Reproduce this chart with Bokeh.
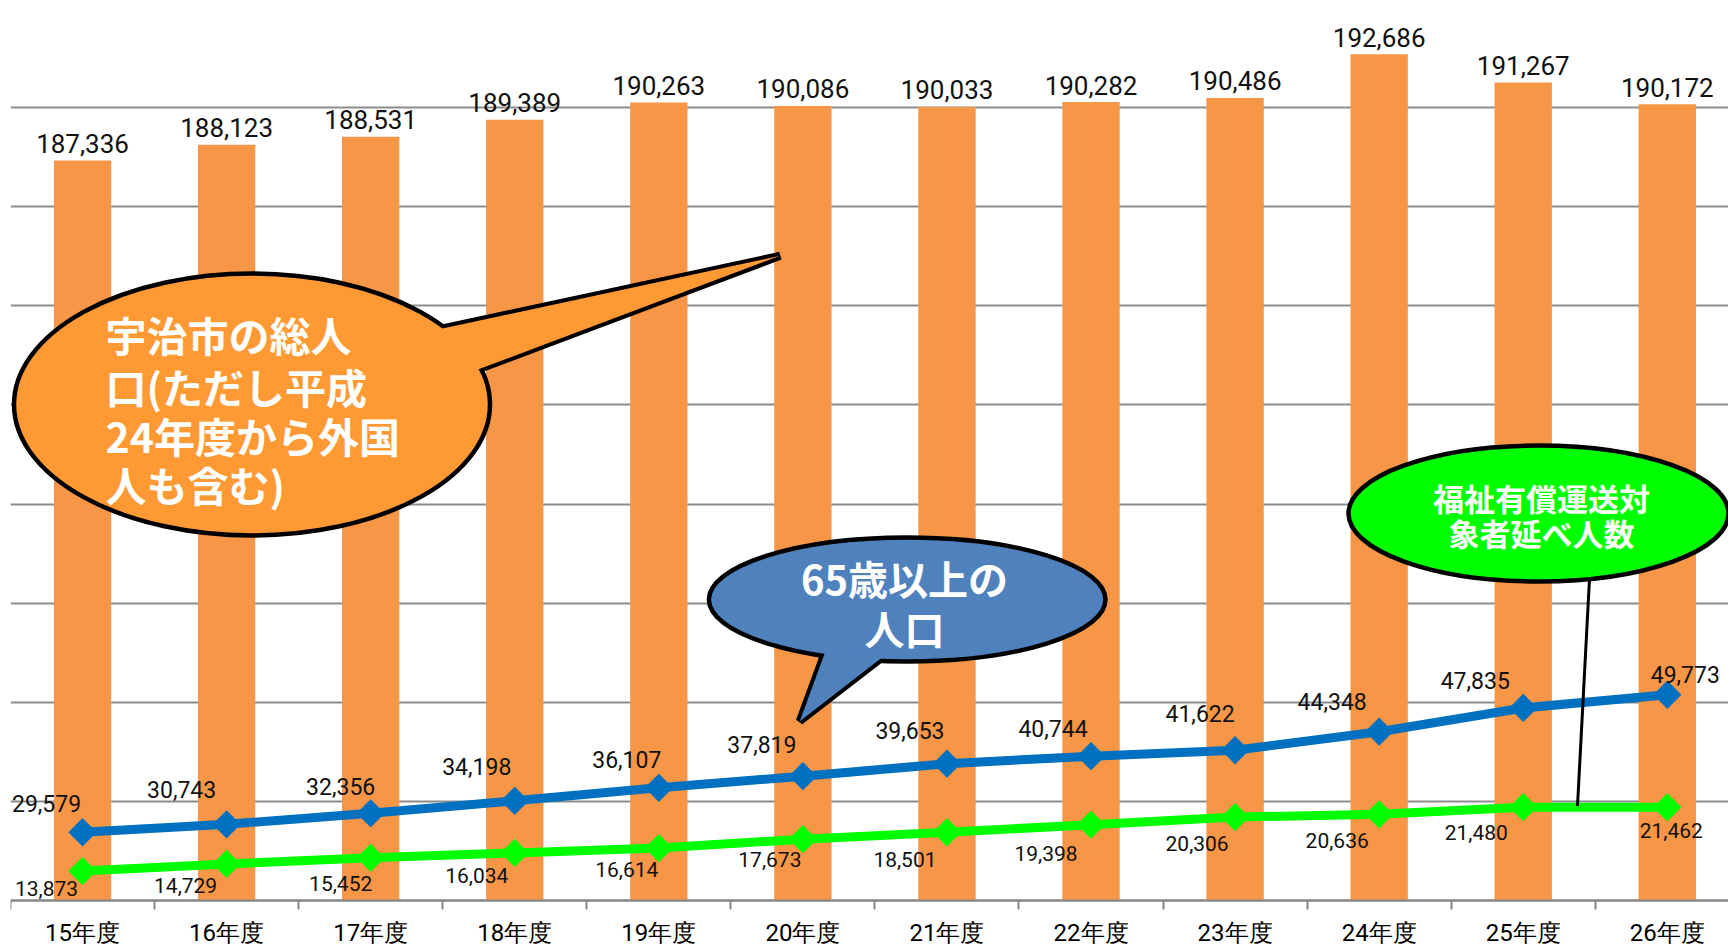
import numpy as np
from bokeh.plotting import figure
from bokeh.models import Range1d, FixedTicker, Grid, ColumnDataSource, CustomJSTickFormatter
from bokeh.core.properties import value
from bokeh.embed import file_html
from bokeh.resources import INLINE

# ---------------- data ----------------
years = ["15年度", "16年度", "17年度", "18年度", "19年度", "20年度",
         "21年度", "22年度", "23年度", "24年度", "25年度", "26年度"]
population = [187336, 188123, 188531, 189389, 190263, 190086,
              190033, 190282, 190486, 192686, 191267, 190172]
elderly = [29579, 30743, 32356, 34198, 36107, 37819,
           39653, 40744, 41622, 44348, 47835, 49773]
welfare = [13873, 14729, 15452, 16034, 16614, 17673,
           18501, 19398, 20306, 20636, 21480, 21462]

# label placement (pixels, layout only)
elderly_dx = [-36, -45, -30, -38, -32, -41, -37, -38, -35, -47, -48, 18]
elderly_dy = [-29, -35, -27, -34, -28, -32, -33, -28, -37, -30, -27, -20]
welfare_dx = [-36, -41, -30, -38, -32, -33, -42, -45, -38, -42, -47, 4]
welfare_dy = [17, 22, 26, 23, 21, 20, 27, 29, 26, 26, 25, 23]

# ---------------- layout ----------------
CAT_PX = 144.07
FIG_W, FIG_H = 1728, 948
BORDER_L, BORDER_T = 10, 8
FRAME_W = FIG_W - BORDER_L
PLOT_H = 892                       # plotting area (top gridline to axis line)
EXTRA = FIG_H - BORDER_T - PLOT_H  # room below the axis line for tick labels
x_end = -0.5 + FRAME_W / CAT_PX
NUM_FONT = value("Roboto")
JP_FONT = value("Noto Sans CJK JP")


def rng(lo, hi):
    """range whose [lo, hi] spans the plotting area, extended below for labels"""
    return Range1d(lo - (hi - lo) * EXTRA / PLOT_H, hi)


p = figure(width=FIG_W, height=FIG_H,
           x_range=Range1d(-0.5, x_end), y_range=rng(150000, 195000),
           output_backend="svg", toolbar_location=None, y_axis_location=None,
           min_border_left=BORDER_L, min_border_right=0, min_border_top=BORDER_T,
           min_border_bottom=0,
           background_fill_color="white", border_fill_color="white",
           outline_line_color=None)
p.extra_y_ranges = {"elderly": rng(19553, 150572),
                    "welfare": rng(10373, 116581),
                    "py": Range1d(BORDER_T + PLOT_H + EXTRA, BORDER_T)}
p.extra_x_ranges = {"px": Range1d(BORDER_L, BORDER_L + FRAME_W)}

p.xgrid.visible = False
p.ygrid.visible = False
grid = Grid(dimension=1, ticker=FixedTicker(ticks=list(range(150000, 195001, 5000))),
            grid_line_color="#8c8c8c", grid_line_width=2)
p.add_layout(grid, "center")

ax = p.xaxis[0]
ax.fixed_location = 150000
ax.ticker = FixedTicker(ticks=list(range(len(years))),
                        minor_ticks=[i - 0.5 for i in range(len(years) + 1)])
ax.formatter = CustomJSTickFormatter(args=dict(labels=years),
                                     code="return labels[Math.round(tick)] || '';")
ax.major_tick_in = 0
ax.major_tick_out = 0
ax.minor_tick_in = 0
ax.minor_tick_out = 9
ax.minor_tick_line_color = "#868686"
ax.minor_tick_line_width = 2
ax.axis_line_color = "#868686"
ax.axis_line_width = 2
ax.major_label_text_font = "Roboto"
ax.major_label_text_font_size = "24px"
ax.major_label_text_color = "black"
ax.major_label_standoff = 9

src = ColumnDataSource(dict(
    x=list(range(len(years))),
    pop=population, eld=elderly, wel=welfare,
    pop_txt=[f"{v:,}" for v in population],
    eld_txt=[f"{v:,}" for v in elderly],
    wel_txt=[f"{v:,}" for v in welfare],
    eld_dx=elderly_dx, eld_dy=elderly_dy,
    wel_dx=welfare_dx, wel_dy=welfare_dy,
))

# bars
p.vbar(x="x", top="pop", bottom=150000, width=0.398, source=src,
       fill_color="#F79646", line_color=None)
p.text(x="x", y="pop", text="pop_txt", source=src, text_align="center",
       text_baseline="alphabetic", y_offset=-17, text_font=NUM_FONT,
       text_font_size="26px", text_color="#111111")

# lines
p.line(x="x", y="eld", source=src, y_range_name="elderly",
       line_color="#0070C0", line_width=9)
p.scatter(x="x", y="eld", source=src, y_range_name="elderly", marker="square",
          angle=np.pi / 4, size=20, fill_color="#0070C0", line_color=None)
p.line(x="x", y="wel", source=src, y_range_name="welfare",
       line_color="#00FF00", line_width=9)
p.scatter(x="x", y="wel", source=src, y_range_name="welfare", marker="square",
          angle=np.pi / 4, size=20, fill_color="#00FF00", line_color=None)

p.text(x="x", y="eld", text="eld_txt", source=src, y_range_name="elderly",
       x_offset="eld_dx", y_offset="eld_dy", text_align="center",
       text_baseline="middle", text_font=NUM_FONT, text_font_size="23px",
       text_color="#111111")
p.text(x="x", y="wel", text="wel_txt", source=src, y_range_name="welfare",
       x_offset="wel_dx", y_offset="wel_dy", text_align="center",
       text_baseline="middle", text_font=NUM_FONT, text_font_size="21px",
       text_color="#111111")

PX = dict(x_range_name="px", y_range_name="py")

def callout(cx, cy, rx, ry, tri, fill):
    tx, ty = tri
    p.patch(tx, ty, fill_color=fill, line_color="black", line_width=8, **PX)
    p.ellipse(x=[cx], y=[cy], width=2 * rx, height=2 * ry, fill_color=fill,
              line_color="black", line_width=4.5, **PX)
    p.patch(tx, ty, fill_color=fill, line_color=None, **PX)

# orange callout
callout(251.5, 404, 238, 131, ([428, 779.6, 472], [331, 255.3, 371]), "#FF9933")
orange_lines = ["宇治市の総人", "口(ただし平成", "24年度から外国", "人も含む)"]
p.text(x=[105] * 4, y=[333, 385, 434, 483], text=orange_lines, text_align="left",
       text_baseline="middle", text_font=JP_FONT, text_font_style="bold",
       text_font_size="41px", text_color="white", **PX)

# blue callout
callout(906.7, 599, 198.3, 62, ([826, 799.3, 888], [648, 720.7, 652]), "#4F81BD")
p.text(x=[904, 904], y=[577, 627], text=["65歳以上の", "人口"], text_align="center",
       text_baseline="middle", text_font=JP_FONT, text_font_style="bold",
       text_font_size="40px", text_color="white", **PX)

# green callout
p.line([1589, 1577], [578, 805.5], line_color="black", line_width=3, **PX)
p.ellipse(x=[1538], y=[513], width=380, height=136, fill_color="#00FF00",
          line_color="black", line_width=4.5, **PX)
p.text(x=[1541, 1541], y=[497, 532], text=["福祉有償運送対", "象者延べ人数"],
       text_align="center", text_baseline="middle", text_font=JP_FONT,
       text_font_style="bold", text_font_size="31px", text_color="white", **PX)

open("out.html", "w").write(file_html(p, INLINE))
